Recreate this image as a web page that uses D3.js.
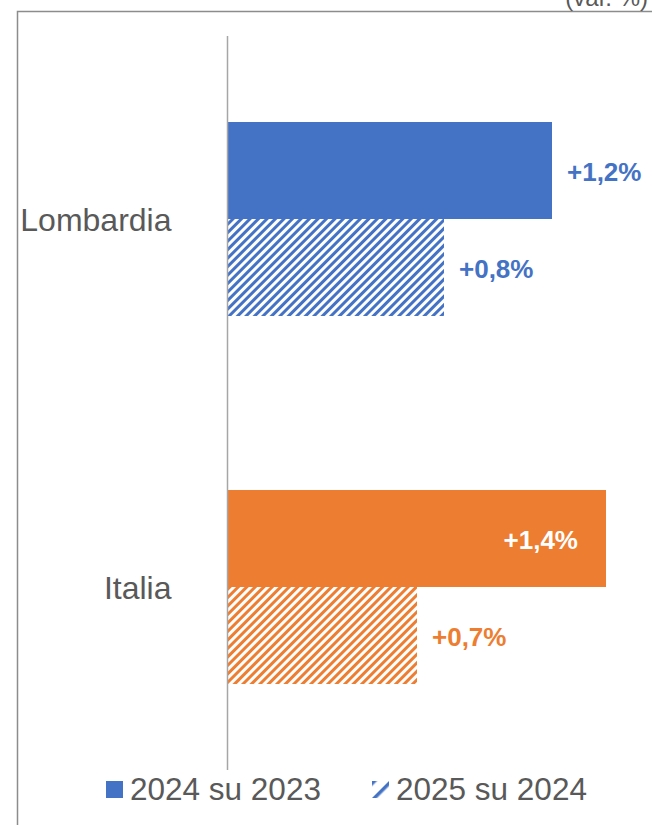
<!DOCTYPE html>
<html>
<head>
<meta charset="utf-8">
<script src="https://cdn.jsdelivr.net/npm/d3@7"></script>
<style>
  html, body { margin: 0; padding: 0; background: #fff; }
  svg { display: block; font-family: "Liberation Sans", Arial, sans-serif; }
</style>
</head>
<body>
<svg id="chart" width="652" height="825"></svg>
<script>
// ---- data ----
const categories = ["Lombardia", "Italia"];
const series = ["2024 su 2023", "2025 su 2024"];
const values2024 = [1.2, 1.4];
const values2025 = [0.8, 0.7];
const valueLabels2024 = ["+1,2%", "+1,4%"];
const valueLabels2025 = ["+0,8%", "+0,7%"];
const unitLabel = "(var. %)";

// ---- styles ----
const catColors = { "Lombardia": "#4472C4", "Italia": "#ED7D31" };
const textGray = "#595959";

const W = 652, H = 825;
const svg = d3.select("#chart");

// patterns
const defs = svg.append("defs");
categories.forEach((c, i) => {
  const p = defs.append("pattern")
    .attr("id", "hatch" + i)
    .attr("patternUnits", "userSpaceOnUse")
    .attr("width", 6).attr("height", 6)
    .attr("patternTransform", "rotate(45)");
  p.append("rect").attr("width", 6).attr("height", 6).attr("fill", "#fff");
  p.append("rect").attr("x", 0).attr("width", 3).attr("height", 6).attr("fill", catColors[c]);
});
const lp = defs.append("pattern")
  .attr("id", "hatchLegend")
  .attr("patternUnits", "userSpaceOnUse")
  .attr("width", 12).attr("height", 12)
  .attr("patternTransform", "translate(378,792) rotate(45)");
lp.append("rect").attr("width", 12).attr("height", 12).attr("fill", "#fff");
lp.append("rect").attr("x", 0).attr("width", 3.5).attr("height", 12).attr("fill", "#4472C4");

// frame
svg.append("path")
  .attr("d", `M17.5,${H + 5} L17.5,11.5 L${W + 5},11.5`)
  .attr("fill", "none").attr("stroke", "#8c8c8c").attr("stroke-width", 1.5);

// unit label (cut at top)
svg.append("text")
  .attr("x", 648).attr("y", 6)
  .attr("text-anchor", "end")
  .attr("font-size", 24).attr("fill", textGray)
  .text(unitLabel);

// scales
const x = d3.scaleLinear().domain([0, 1.4]).range([228, 606]);
const y = d3.scalePoint().domain(categories).range([35, 771]).padding(0.5);
const yIn = d3.scaleBand().domain(series).range([-97, 97]);

const rows = [];
categories.forEach((c, i) => {
  rows.push({ cat: c, ci: i, s: series[0], v: values2024[i], label: valueLabels2024[i], hatched: false });
  rows.push({ cat: c, ci: i, s: series[1], v: values2025[i], label: valueLabels2025[i], hatched: true });
});

// bars
svg.append("g").selectAll("rect")
  .data(rows).join("rect")
  .attr("x", x(0))
  .attr("y", d => y(d.cat) + yIn(d.s))
  .attr("width", d => x(d.v) - x(0))
  .attr("height", yIn.bandwidth())
  .attr("fill", d => d.hatched ? `url(#hatch${d.ci})` : catColors[d.cat]);

// axis (category axis line)
const axis = d3.axisLeft(y).tickSize(0).tickPadding(56);
const ag = svg.append("g").attr("transform", `translate(${x(0) - 0.5},0)`).call(axis);
ag.select(".domain").attr("d", "M0,36V770").attr("stroke", "#a6a6a6").attr("stroke-width", 1.5);
ag.selectAll(".tick text")
  .attr("font-family", '"Liberation Sans", Arial, sans-serif')
  .attr("font-size", 32).attr("fill", textGray)
  .attr("dy", "0.36em");

// value labels
svg.append("g").selectAll("text")
  .data(rows).join("text")
  .each(function (d) {
    const inside = x(d.v) + 90 > W;
    const t = d3.select(this);
    t.attr("y", y(d.cat) + yIn(d.s) + yIn.bandwidth() / 2 + 10)
      .attr("font-size", 26).attr("font-weight", "bold")
      .attr("fill", inside ? "#fff" : catColors[d.cat])
      .attr("text-anchor", inside ? "end" : "start")
      .attr("x", inside ? x(d.v) - 28 : x(d.v) + 15)
      .text(d.label);
  });

// legend
const legendItems = [
  { name: series[0], fill: "#4472C4", mx: 106, tx: 130 },
  { name: series[1], fill: "url(#hatchLegend)", mx: 372, tx: 396 }
];
const lg = svg.append("g");
lg.selectAll("rect").data(legendItems).join("rect")
  .attr("x", d => d.mx).attr("y", 781).attr("width", 17).attr("height", 17)
  .attr("fill", d => d.fill);
lg.selectAll("text").data(legendItems).join("text")
  .attr("x", d => d.tx).attr("y", 800)
  .attr("font-size", 31.5).attr("fill", textGray)
  .text(d => d.name);
</script>
</body>
</html>
